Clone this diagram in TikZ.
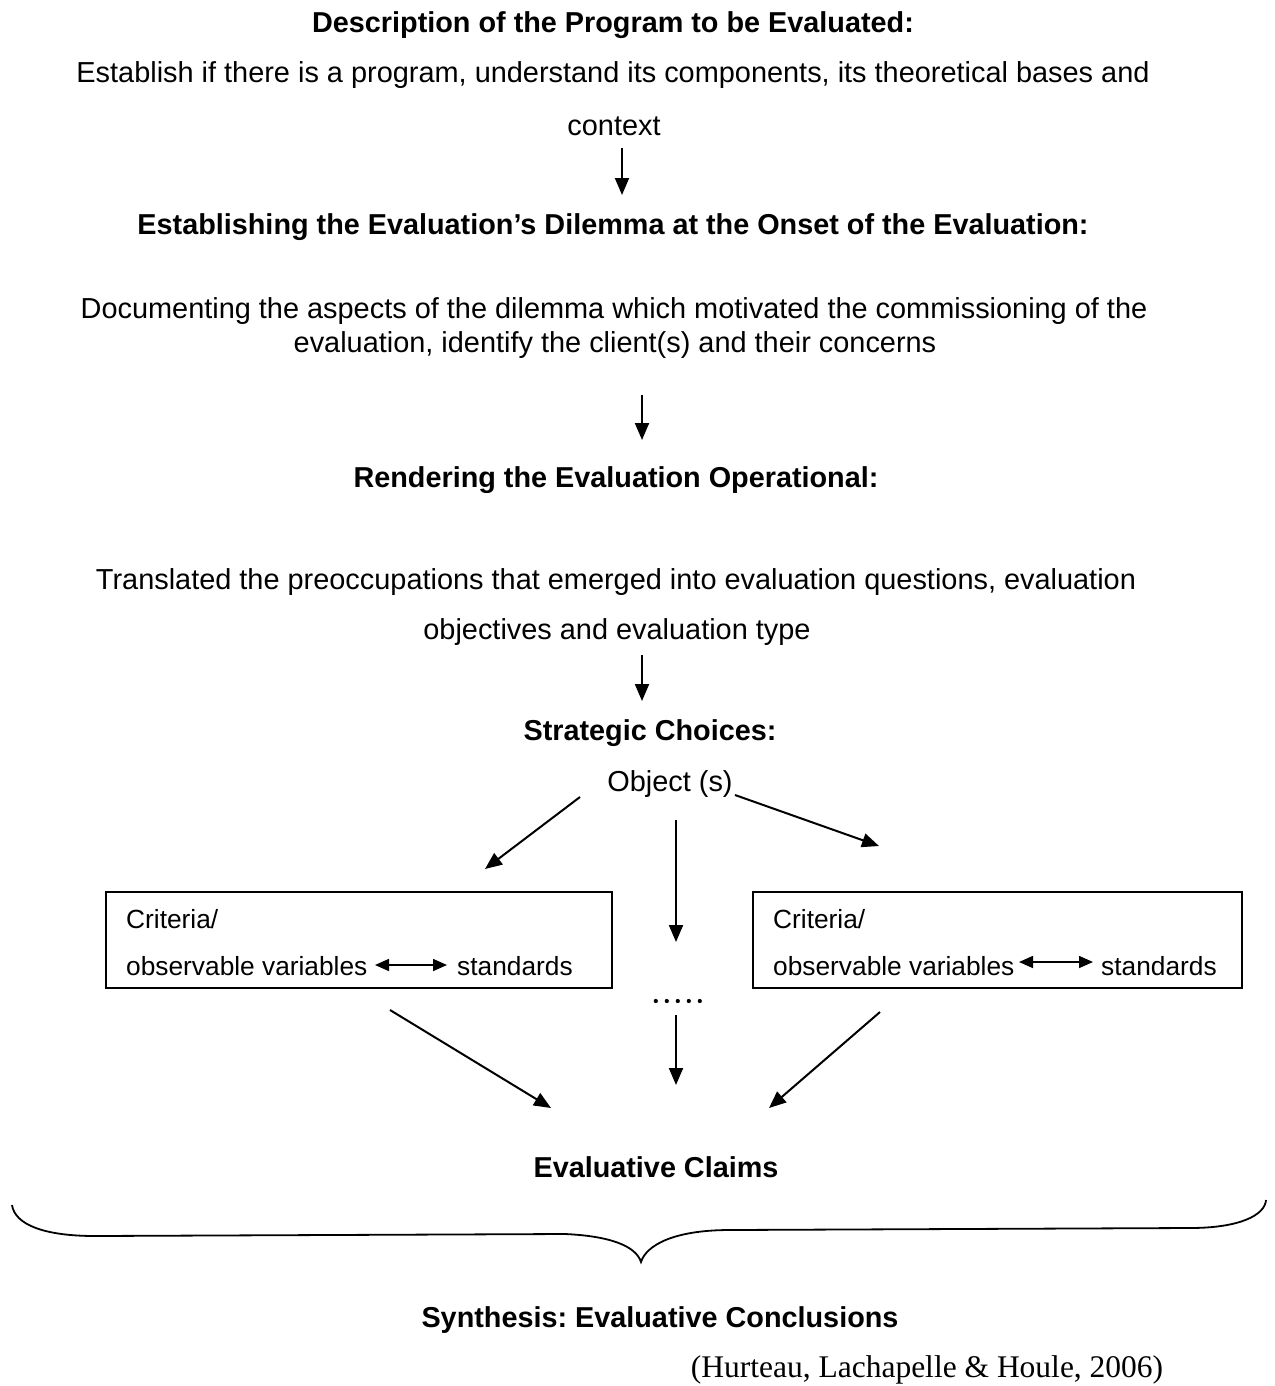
\documentclass[tikz,border=0pt]{standalone}
\usepackage{fontspec}
\setmainfont{Liberation Sans}
\newfontfamily\timesf{Liberation Serif}
\usetikzlibrary{arrows.meta,calc}
\frenchspacing
\begin{document}
\begin{tikzpicture}[x=1pt,y=-1pt,
  txt/.style={inner sep=0pt,anchor=center,font=\fontsize{28.9}{33}\selectfont},
  hd/.style={txt,font=\fontsize{28.8}{33}\selectfont\bfseries},
  btx/.style={inner sep=0pt,anchor=west,font=\fontsize{26.3}{30}\selectfont},
  arr/.style={line width=2pt,-{Triangle[length=17pt,width=14pt]}},
  darr/.style={line width=1.6pt,{Triangle[length=14pt,width=12pt]}-{Triangle[length=14pt,width=12pt]}},
  box/.style={draw,line width=1.4pt}]
\useasboundingbox (0,0) rectangle (1274,1386);
\node[hd] (h1) at (613,25) {Description of the Program to be Evaluated:};
\node[txt] (t1a) at (613,75) {Establish if there is a program, understand its components, its theoretical bases and};
\node[txt] (t1b) at (614,126) {context};
\node[hd] (h2) at (613,227) {Establishing the Evaluation’s Dilemma at the Onset of the Evaluation:};
\node[txt] (t2a) at (614,311) {Documenting the aspects of the dilemma which motivated the commissioning of the};
\node[txt] (t2b) at (615,345) {evaluation, identify the client(s) and their concerns};
\node[hd] (h3) at (616,480) {Rendering the Evaluation Operational:};
\node[txt] (t3a) at (616,582) {Translated the preoccupations that emerged into evaluation questions, evaluation};
\node[txt] (t3b) at (617,632) {objectives and evaluation type};
\node[hd] (h4) at (650,733) {Strategic Choices:};
\node[txt] (obj) at (670,784) {Object (s)};
% boxes
\node[box,minimum width=506pt,minimum height=96pt,inner sep=0pt] (bl) at (359,940) {};
\node[box,minimum width=489pt,minimum height=96pt,inner sep=0pt] (br) at (997.5,940) {};
\node[btx] (bl1) at (126,919) {Criteria/};
\node[btx] (bl2) at (126,966) {observable variables};
\node[btx] (bl3) at (457,966) {standards};
\node[btx] (br1) at (773,919) {Criteria/};
\node[btx] (br2) at (773,966) {observable variables};
\node[btx] (br3) at (1101,966) {standards};
\node[inner sep=0pt,minimum width=50pt,minimum height=6pt] (dots) at (679,1001) {};
\foreach \i in {0,...,4} \fill ($(dots.west)+(2+11*\i,0)$) circle (2.1pt);
\node[hd] (claims) at (656,1167) {Evaluative Claims};
\node[hd] (synth) at (660,1320) {Synthesis: Evaluative Conclusions};
\node[inner sep=0pt,anchor=center,font=\fontsize{31.5}{36}\selectfont\timesf] (cite) at (927,1370) {(Hurteau, Lachapelle \& Houle, 2006)};
% connector end points
\coordinate (a1s) at (622,148); \coordinate (a1e) at (622,195);
\coordinate (a2s) at (642,395); \coordinate (a2e) at (642,440);
\coordinate (a3s) at (642,655); \coordinate (a3e) at (642,701);
\coordinate (oLs) at (580,797); \coordinate (oLe) at (485,869);
\coordinate (oRs) at (735,795); \coordinate (oRe) at (879,846);
\coordinate (oMs) at (676,820); \coordinate (oMe) at (676,942);
\coordinate (dMs) at (676,1015); \coordinate (dMe) at (676,1085);
\coordinate (bLs) at (390,1010); \coordinate (bLe) at (551,1108);
\coordinate (bRs) at (880,1012); \coordinate (bRe) at (769,1108);
\coordinate (dl1) at (375,965); \coordinate (dl2) at (447,965);
\coordinate (dr1) at (1019,962); \coordinate (dr2) at (1093,962);
\draw[arr] (a1s) -- (a1e);
\draw[arr] (a2s) -- (a2e);
\draw[arr] (a3s) -- (a3e);
\draw[arr] (oLs) -- (oLe);
\draw[arr] (oRs) -- (oRe);
\draw[arr] (oMs) -- (oMe);
\draw[arr] (dMs) -- (dMe);
\draw[arr] (bLs) -- (bLe);
\draw[arr] (bRs) -- (bRe);
\draw[darr] (dl1) -- (dl2);
\draw[darr] (dr1) -- (dr2);
% brace
\draw[line width=1.8pt] (12,1205) .. controls (15,1225) and (45,1236) .. (95,1236)
  -- (565,1234) .. controls (610,1236) and (636,1246) .. (641,1262)
  .. controls (646,1246) and (672,1230) .. (730,1230)
  -- (1190,1228) .. controls (1240,1228) and (1265,1215) .. (1266,1200);
\end{tikzpicture}
\end{document}
